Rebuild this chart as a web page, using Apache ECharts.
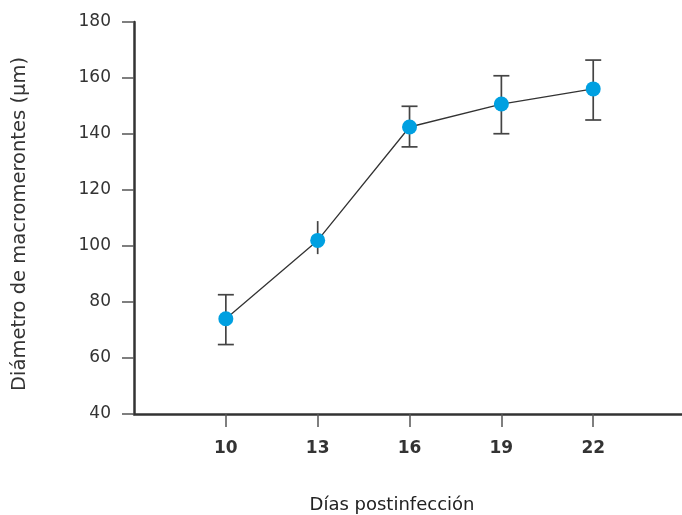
<!DOCTYPE html>
<html>
<head>
<meta charset="utf-8">
<script src="https://cdn.jsdelivr.net/npm/echarts@6/dist/echarts.min.js"></script>
<style>html,body{margin:0;padding:0;background:#fff;}#c{width:682px;height:515px;}</style>
</head>
<body>
<div id="c"></div>
<script>
var days = [10, 13, 16, 19, 22];
var diameter = [74, 102, 142.5, 150.7, 156.1];
var errLow = [64.8, 97.1, 135.4, 140.1, 145];
var errHigh = [82.6, 108.9, 149.9, 160.8, 166.4];
var showCap = [true, false, true, true, true];
var yTicks = [40, 60, 80, 100, 120, 140, 160, 180];

var pts = days.map(function (d, i) { return [d, diameter[i]]; });
var errs = days.map(function (d, i) { return [d, errLow[i], errHigh[i], showCap[i] ? 1 : 0]; });

var chart = echarts.init(document.getElementById('c'));
chart.setOption({
  animation: false,
  backgroundColor: '#fff',
  grid: { left: 134, right: 0, top: 22, bottom: 101, containLabel: false, outerBoundsMode: 'none' },
  xAxis: {
    type: 'value', min: 7, max: 24.9,
    name: 'Días postinfección', nameLocation: 'middle', nameGap: 82,
    nameTextStyle: { fontFamily: 'DejaVu Sans', fontSize: 18, color: '#222', padding: [0, 32, 0, 0] },
    axisLine: { show: true, lineStyle: { color: '#333', width: 2.5 } },
    axisTick: { show: true, length: 13, customValues: days, lineStyle: { color: '#555', width: 1.5 } },
    axisLabel: { customValues: days, margin: 26, fontFamily: 'DejaVu Sans', fontSize: 17, fontWeight: 'bold', color: '#333' },
    splitLine: { show: false }
  },
  yAxis: {
    type: 'value', min: 40, max: 180, interval: 20,
    name: 'Diámetro de macromerontes (µm)', nameLocation: 'middle', nameGap: 104,
    nameTextStyle: { fontFamily: 'DejaVu Sans', fontSize: 19.5, color: '#333', padding: [0, 12, 0, 0] },
    axisLine: { show: true, lineStyle: { color: '#333', width: 2.5 } },
    axisTick: { show: true, length: 12, lineStyle: { color: '#555', width: 1.5 } },
    axisLabel: { margin: 23, fontFamily: 'DejaVu Sans', fontSize: 17, color: '#333',
      formatter: function (v) { return yTicks.indexOf(v) >= 0 ? String(v) : ''; } },
    splitLine: { show: false }
  },
  series: [
    {
      type: 'custom',
      data: errs,
      z: 1,
      renderItem: function (params, api) {
        var x = api.value(0);
        var lo = api.coord([x, api.value(1)]);
        var hi = api.coord([x, api.value(2)]);
        var cap = api.value(3);
        var hw = 8;
        var style = { stroke: '#444', lineWidth: 1.7, fill: null };
        var children = [{ type: 'line', shape: { x1: lo[0], y1: lo[1], x2: hi[0], y2: hi[1] }, style: style }];
        if (cap) {
          children.push({ type: 'line', shape: { x1: lo[0] - hw, y1: lo[1], x2: lo[0] + hw, y2: lo[1] }, style: style });
          children.push({ type: 'line', shape: { x1: hi[0] - hw, y1: hi[1], x2: hi[0] + hw, y2: hi[1] }, style: style });
        }
        return { type: 'group', children: children };
      }
    },
    {
      type: 'line',
      data: pts,
      z: 3,
      symbol: 'circle',
      symbolSize: 15,
      lineStyle: { color: '#333', width: 1.3 },
      itemStyle: { color: '#00a0e1', borderWidth: 0 }
    }
  ]
});
</script>
</body>
</html>
